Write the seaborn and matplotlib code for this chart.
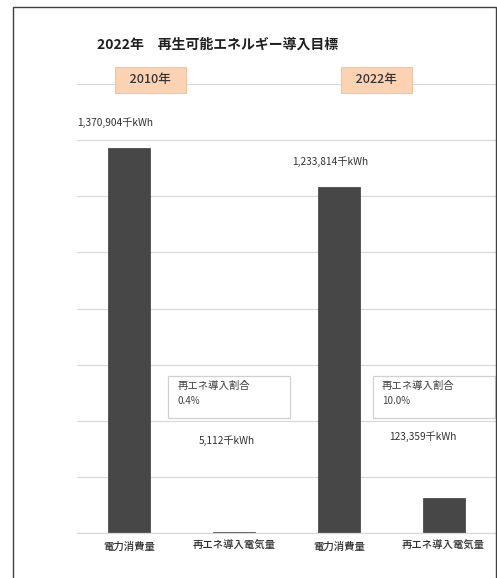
"""2022年 再生可能エネルギー導入目標 - 棒グラフ."""

import numpy as np
import matplotlib
matplotlib.use('Agg')
import matplotlib.pyplot as plt
from matplotlib.patches import Rectangle
import seaborn as sns

sns.set_style('white')
plt.rcParams['font.family'] = ['Noto Sans CJK JP', 'DejaVu Sans']
plt.rcParams['axes.unicode_minus'] = False

# データ
items = ['電力消費量', '再エネ導入電気量', '電力消費量', '再エネ導入電気量']
values = [1370904, 5112, 1233814, 123359]
years = ['2010年', '2022年']
ratios = ['0.4%', '10.0%']
title = '2022年\u3000再生可能エネルギー導入目標'

BAR_COLOR = '#474747'
GRID_COLOR = '#d9d9d9'

fig = plt.figure(figsize=(4.97, 5.78), dpi=100)
ax = fig.add_axes([77 / 497, 1 - 533 / 578, 419 / 497, 449 / 578])

x = np.arange(len(values))
sns.barplot(x=x, y=values, color=BAR_COLOR, width=0.40, saturation=1,
            edgecolor='#3a3a3a', linewidth=0.5, ax=ax)

ax.set_xlim(-0.5, len(values) - 0.5)
ax.set_ylim(0, 1600000)
ax.set_yticks(np.arange(0, 1600001, 200000))
ax.yaxis.grid(True, color=GRID_COLOR, linewidth=0.9)
ax.set_axisbelow(True)
ax.tick_params(axis='y', left=False, labelleft=False)
ax.set_xticks(x)
ax.set_xticklabels(items, fontsize=7.5, color='#303030', fontweight='medium')
ax.tick_params(axis='x', length=0, pad=6)
ax.set_xticks(np.arange(-0.5, len(values)), minor=True)
ax.tick_params(axis='x', which='minor', length=4, color=GRID_COLOR, width=0.9)
for side in ['left', 'right', 'top']:
    ax.spines[side].set_visible(False)
ax.spines['bottom'].set_color(GRID_COLOR)
ax.spines['bottom'].set_linewidth(0.9)
ax.set_xlabel('')
ax.set_ylabel('')

# 数値ラベル
label_pos = [(-0.136, 1461000), (0.93, 328000), (1.92, 1322000), (2.80, 342000)]
for (lx, ly), v in zip(label_pos, values):
    ax.text(lx, ly, f'{v:,}千kWh', ha='center', va='center', fontsize=7.3,
            color='#303030')

# 年ラベル
for xpos, yr in zip([0.20, 2.36], years):
    ax.text(xpos, 1.009, f'   {yr}   ', transform=ax.get_xaxis_transform(),
            ha='center', va='center', fontsize=9, color='#333333',
            fontweight='medium',
            bbox=dict(boxstyle='square,pad=0.5', facecolor='#fbd3b3',
                      edgecolor='#f2c4a0', linewidth=0.8))

# 再エネ導入割合ボックス
for x0, r in zip([0.371, 2.323], ratios):
    ax.add_patch(Rectangle((x0, 410000), 1.167, 149000, facecolor='white',
                           edgecolor='#d0d0d0', linewidth=0.9, zorder=3,
                           clip_on=False))
    ax.text(x0 + 0.085, 523000, '再エネ導入割合', fontsize=7.5, color='#404040',
            ha='left', va='center', zorder=4)
    ax.text(x0 + 0.085, 470000, r, fontsize=7, color='#404040',
            ha='left', va='center', zorder=4)

# タイトル
fig.text(97 / 497, 1 - 45 / 578, title, fontsize=10, fontweight='bold',
         color='#202020', ha='left', va='center')

# 外枠
fig.patches.append(Rectangle((13 / 497, -0.05), 483 / 497, 1 - 7 / 578 + 0.05,
                             transform=fig.transFigure, fill=False,
                             edgecolor='#404040', linewidth=1.0))

plt.savefig('out.png', dpi=100)
plt.close()
